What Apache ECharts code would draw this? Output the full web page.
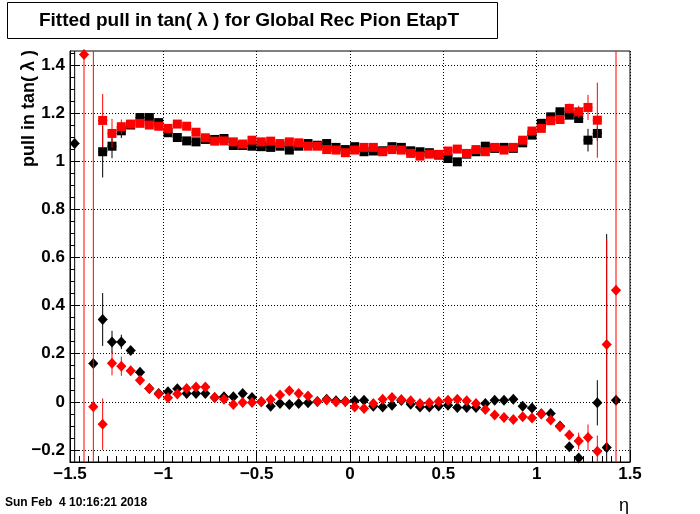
<!DOCTYPE html>
<html><head><meta charset="utf-8">
<script src="https://cdn.jsdelivr.net/npm/echarts@6/dist/echarts.min.js"></script>
<style>html,body{margin:0;padding:0;background:#fff}#c{width:700px;height:514px}</style>
</head><body><div id="c"></div>
<script>
// bin centres in eta
const eta = [-1.475,-1.425,-1.375,-1.325,-1.275,-1.225,-1.175,-1.125,-1.075,-1.025,
  -0.975,-0.925,-0.875,-0.825,-0.775,-0.725,-0.675,-0.625,-0.575,-0.525,
  -0.475,-0.425,-0.375,-0.325,-0.275,-0.225,-0.175,-0.125,-0.075,-0.025,
  0.025,0.075,0.125,0.175,0.225,0.275,0.325,0.375,0.425,0.475,
  0.525,0.575,0.625,0.675,0.725,0.775,0.825,0.875,0.925,0.975,
  1.025,1.075,1.125,1.175,1.225,1.275,1.325,1.375,1.425,1.475];

// upper (width) series - squares
const blackSq = [null,null,null,1.039,1.062,1.126,1.150,1.181,1.181,1.160,
  1.118,1.098,1.084,1.080,1.090,1.090,1.094,1.065,1.065,1.062,
  1.060,1.057,1.062,1.046,1.062,1.073,1.066,1.073,1.057,1.048,
  1.060,1.039,1.042,1.043,1.060,1.057,1.043,1.039,1.035,1.025,
  1.011,0.997,1.029,1.039,1.062,1.053,1.057,1.053,1.076,1.108,
  1.157,1.184,1.205,1.191,1.177,1.087,1.115,null,null,null];
const blackSqErr = [0,0,0,0.107,0.05,0.03,0.012,0.01,0.01,0.008,
  0.008,0.008,0.008,0.008,0.008,0.008,0.008,0.008,0.008,0.008,
  0.008,0.008,0.008,0.008,0.008,0.008,0.008,0.008,0.008,0.008,
  0.008,0.008,0.008,0.008,0.008,0.008,0.008,0.008,0.008,0.008,
  0.008,0.008,0.008,0.008,0.008,0.008,0.008,0.008,0.008,0.01,
  0.01,0.01,0.012,0.012,0.015,0.047,0.03,0,0,0];
const redSq = [null,null,null,1.169,1.115,1.143,1.154,1.157,1.150,1.145,
  1.136,1.154,1.145,1.120,1.097,1.083,1.084,1.080,1.071,1.087,
  1.080,1.083,1.073,1.080,1.076,1.062,1.062,1.048,1.046,1.035,
  1.046,1.057,1.057,1.039,1.048,1.046,1.032,1.021,1.029,1.028,
  1.042,1.050,1.032,1.048,1.039,1.057,1.046,1.057,1.087,1.125,
  1.136,1.168,1.173,1.219,1.205,1.223,1.170,null,null,null];
const redSqErr = [0,0,0,0.11,0.06,0.03,0.015,0.01,0.01,0.008,
  0.008,0.008,0.008,0.008,0.008,0.008,0.008,0.008,0.008,0.008,
  0.008,0.008,0.008,0.008,0.008,0.008,0.008,0.008,0.008,0.008,
  0.008,0.008,0.008,0.008,0.008,0.008,0.008,0.008,0.008,0.008,
  0.008,0.008,0.008,0.008,0.008,0.008,0.008,0.008,0.008,0.01,
  0.01,0.01,0.012,0.02,0.025,0.052,0.156,0,0,0];

// lower (mean) series - diamonds
const blackDi = [1.073,null,0.159,0.342,0.249,0.249,0.213,0.123,0.055,0.035,
  0.042,0.054,0.035,0.035,0.035,0.018,0.021,0.021,0.035,0.018,
  0.000,-0.018,-0.007,-0.011,-0.007,-0.004,0.001,0.011,0.004,0.002,
  0.004,0.007,-0.018,-0.021,-0.014,0.005,-0.010,-0.021,-0.021,-0.017,
  -0.014,-0.024,-0.024,-0.024,-0.007,0.007,0.007,0.011,-0.018,-0.026,
  -0.050,-0.048,-0.100,-0.187,-0.233,null,-0.004,-0.190,0.007,null];
const blackDiErr = [2.0,0,0.01,0.11,0.046,0.03,0.015,0.01,0.008,0.008,
  0.008,0.008,0.008,0.008,0.008,0.008,0.008,0.008,0.008,0.008,
  0.008,0.008,0.008,0.008,0.008,0.008,0.008,0.008,0.008,0.008,
  0.008,0.008,0.008,0.008,0.008,0.008,0.008,0.008,0.008,0.008,
  0.008,0.008,0.008,0.008,0.008,0.008,0.008,0.008,0.008,0.01,
  0.01,0.01,0.012,0.015,0.02,0,0.094,0.887,0.02,0];
const redDi = [null,1.443,-0.020,-0.093,0.160,0.148,0.129,0.090,0.055,0.032,
  0.017,0.032,0.055,0.062,0.062,0.018,0.011,-0.011,-0.003,-0.003,
  0.000,0.010,0.028,0.046,0.035,0.024,0.001,0.008,-0.001,0.000,
  -0.021,-0.028,-0.007,0.011,0.018,0.010,0.004,-0.007,-0.004,0.001,
  0.007,0.011,0.004,-0.007,-0.032,-0.055,-0.065,-0.073,-0.062,-0.067,
  -0.051,-0.076,-0.104,-0.138,-0.163,-0.148,-0.205,0.238,0.464,null];
const redDiErr = [0,3.0,3.0,0.107,0.05,0.04,0.02,0.012,0.01,0.008,
  0.008,0.008,0.008,0.008,0.008,0.008,0.008,0.008,0.008,0.008,
  0.008,0.008,0.008,0.008,0.008,0.008,0.008,0.008,0.008,0.008,
  0.008,0.008,0.008,0.008,0.008,0.008,0.008,0.008,0.008,0.008,
  0.008,0.008,0.008,0.008,0.008,0.008,0.008,0.008,0.008,0.01,
  0.01,0.01,0.012,0.02,0.035,0.054,0.065,0.437,3.0,0];

const yTicks = [-0.2,0,0.2,0.4,0.6,0.8,1,1.2,1.4];
const yMinorTicks = [-0.25,-0.15,-0.1,-0.05,0.05,0.1,0.15,0.25,0.3,0.35,0.45,0.5,0.55,
  0.65,0.7,0.75,0.85,0.9,0.95,1.05,1.1,1.15,1.25,1.3,1.35,1.45];
const X_MIN = -1.5, X_MAX = 1.5, Y_MIN = -0.25, Y_MAX = 1.4575;
const binHalf = 0.025;

const FONT = '"Liberation Sans", Arial, Helvetica, sans-serif';
const fmt = v => String(v).replace('-', '\u2212');

function makeSeries(name, vals, errs, color, shape, z) {
  const data = [];
  vals.forEach((v, i) => { if (v !== null) data.push([eta[i], v, errs[i]]); });
  return {
    type: 'custom', name, z, data, clip: false,
    renderItem(params, api) {
      const x = api.value(0), y = api.value(1), e = api.value(2);
      const c = api.coord([x, y]);
      const yt = api.coord([x, Math.min(y + e, Y_MAX)])[1];
      const yb = api.coord([x, Math.max(y - e, Y_MIN)])[1];
      const xl = api.coord([x - binHalf, y])[0];
      const xr = api.coord([x + binHalf, y])[0];
      const ls = { stroke: color, lineWidth: 1 };
      const children = [
        { type: 'line', shape: { x1: c[0], y1: yt, x2: c[0], y2: yb }, style: ls },
        { type: 'line', shape: { x1: xl, y1: c[1], x2: xr, y2: c[1] }, style: ls }
      ];
      if (shape === 'square') {
        children.push({ type: 'rect', shape: { x: c[0] - 4.5, y: c[1] - 4.5, width: 9, height: 9 }, style: { fill: color } });
      } else {
        const w = 5, h = 5.5;
        children.push({ type: 'polygon', shape: { points: [[c[0], c[1] - h], [c[0] + w, c[1]], [c[0], c[1] + h], [c[0] - w, c[1]]] }, style: { fill: color } });
      }
      return { type: 'group', children };
    }
  };
}

const chart = echarts.init(document.getElementById('c'), null, { renderer: 'canvas' });
chart.setOption({
  animation: false,
  backgroundColor: '#fff',
  grid: { left: 70, right: 70, top: 51, bottom: 52, show: true, borderColor: '#000', borderWidth: 1, backgroundColor: 'transparent' },
  xAxis: {
    type: 'value', min: X_MIN, max: X_MAX, interval: 0.5,
    axisLine: { show: true, onZero: false, lineStyle: { color: '#000', width: 1 } },
    axisTick: { inside: true, length: 12, lineStyle: { color: '#000' } },
    minorTick: { show: true, splitNumber: 10, length: 6, lineStyle: { color: '#000' } },
    axisLabel: { formatter: fmt, color: '#000', fontFamily: FONT, fontWeight: 'bold', fontSize: 17, margin: 4 },
    splitLine: { show: true, lineStyle: { color: '#000', type: [1, 2], width: 1 } }
  },
  yAxis: [{
    type: 'value', min: Y_MIN, max: Y_MAX,
    axisLine: { show: true, onZero: false, lineStyle: { color: '#000', width: 1 } },
    axisTick: { inside: true, length: 10, customValues: yTicks, lineStyle: { color: '#000' } },
    axisLabel: { customValues: yTicks, formatter: fmt, color: '#000', fontFamily: FONT, fontWeight: 'bold', fontSize: 17, margin: 5 },
    splitLine: { show: true, lineStyle: { color: '#000', type: [1, 2], width: 1 } }
  }, {
    type: 'value', min: Y_MIN, max: Y_MAX, position: 'left', offset: 0,
    axisLine: { show: false, onZero: false },
    axisTick: { show: true, inside: true, length: 5, customValues: yMinorTicks, lineStyle: { color: '#000' } },
    axisLabel: { show: false },
    splitLine: { show: false }
  }],
  series: [
    makeSeries('black width', blackSq, blackSqErr, '#000', 'square', 2),
    makeSeries('red width', redSq, redSqErr, '#ff0000', 'square', 3),
    makeSeries('black mean', blackDi, blackDiErr, '#000', 'diamond', 4),
    makeSeries('red mean', redDi, redDiErr, '#ff0000', 'diamond', 5)
  ],
  graphic: [
    { type: 'rect', shape: { x: 7.5, y: 2.5, width: 490, height: 36 }, style: { fill: '#fff', stroke: '#000', lineWidth: 1 }, z: 10 },
    { type: 'text', x: 249, y: 21, z: 11, style: { text: 'Fitted pull in tan( \u03bb ) for Global Rec Pion EtapT', font: 'bold 19px ' + FONT, fill: '#000', align: 'center', verticalAlign: 'middle', textAlign: 'center', textVerticalAlign: 'middle' } },
    { type: 'text', x: 29, y: 50, rotation: Math.PI / 2, z: 11, style: { text: 'pull in tan( \u03bb )', font: 'bold 18px ' + FONT, fill: '#000', align: 'right', verticalAlign: 'middle', textAlign: 'right', textVerticalAlign: 'middle' } },
    { type: 'text', x: 629, y: 506, z: 11, style: { text: '\u03b7', font: '18px ' + FONT, fill: '#000', align: 'right', verticalAlign: 'middle', textAlign: 'right', textVerticalAlign: 'middle' } },
    { type: 'text', x: 5, y: 503, z: 11, style: { text: 'Sun Feb  4 10:16:21 2018', font: 'bold 12px ' + FONT, fill: '#000', align: 'left', verticalAlign: 'middle', textAlign: 'left', textVerticalAlign: 'middle' } }
  ]
});
</script>
</body></html>
